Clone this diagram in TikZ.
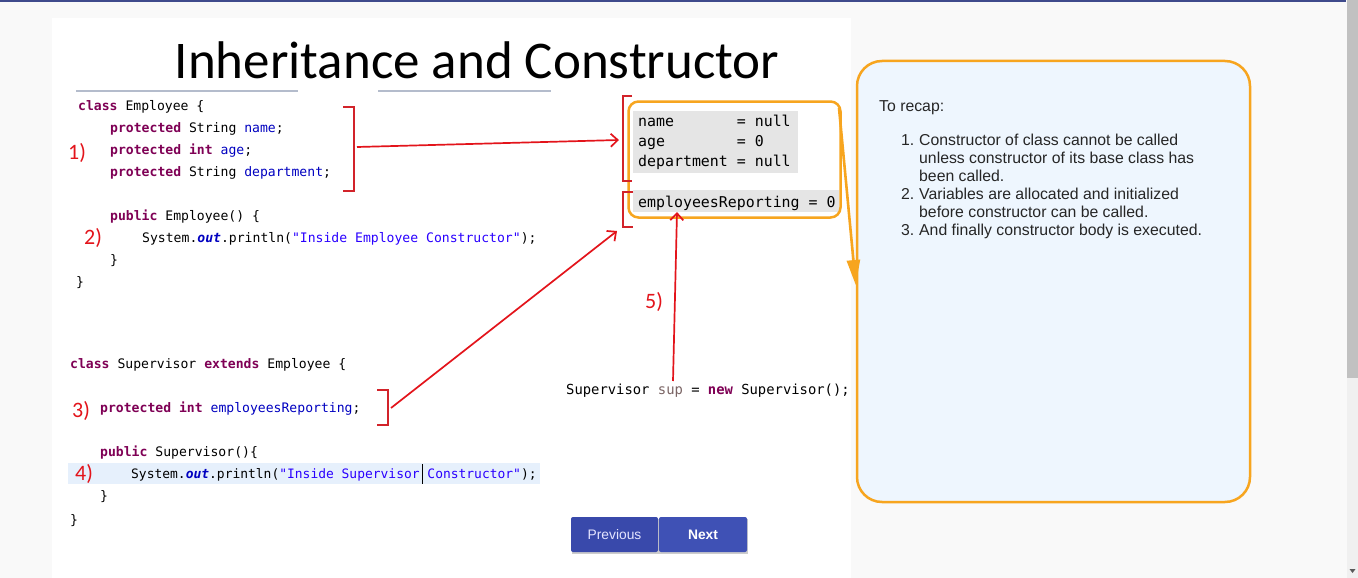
\documentclass[tikz,border=0pt]{standalone}
\usepackage{fontspec}
\usetikzlibrary{arrows.meta}
\setmainfont{Liberation Sans}
\newfontfamily\codefont{DejaVu Sans Mono}
\newfontfamily\titlefont{Carlito}
\definecolor{pagebg}{HTML}{F9F9F9}
\definecolor{topline}{HTML}{3F4B8C}
\definecolor{scrolltrack}{HTML}{F0F0F0}
\definecolor{scrollthumb}{HTML}{C1C1C1}
\definecolor{kwc}{HTML}{7F0055}
\definecolor{fldc}{HTML}{0000C0}
\definecolor{strcol}{HTML}{2A00FF}
\definecolor{locc}{HTML}{7A6464}
\definecolor{labred}{HTML}{E3141B}
\definecolor{brred}{HTML}{D2232A}
\definecolor{orangec}{HTML}{F7A51F}
\definecolor{recapfill}{HTML}{EEF6FE}
\definecolor{hilite}{HTML}{E6F0FC}
\definecolor{btnprev}{HTML}{3949AB}
\definecolor{btnnext}{HTML}{3F51B5}
\definecolor{rulec}{HTML}{B4BCCC}
\newcommand{\kw}[1]{{\bfseries\color{kwc}#1}}
\newcommand{\fld}[1]{{\color{fldc}#1}}
\newcommand{\strt}[1]{{\color{strcol}#1}}
\newcommand{\outk}[1]{{\bfseries\itshape\color{fldc}#1}}
\begin{document}
\begin{tikzpicture}[x=1pt,y=-1pt,
  code/.style={anchor=base west, inner sep=0pt, font=\codefont\fontsize{13.1}{15}\selectfont},
  codes/.style={anchor=base west, inner sep=0pt, font=\codefont\fontsize{12.95}{15}\selectfont},
  codeb/.style={anchor=base west, inner sep=0pt, font=\codefont\fontsize{13.85}{16}\selectfont},
  memtext/.style={anchor=base west, inner sep=0pt, font=\codefont\fontsize{14.9}{17}\selectfont},
  steplabel/.style={anchor=base west, inner sep=0pt, text=labred, font=\titlefont\fontsize{22}{24}\selectfont},
  recaptext/.style={anchor=base west, inner sep=0pt, text=black!85, font=\fontsize{15.8}{18}\selectfont},
  bracketline/.style={draw=brred, line width=2pt},
  redarrow/.style={draw=labred, line width=1.7pt, -{Straight Barb[length=7pt,width=13pt]}},
  orangearrow/.style={draw=orangec, line width=2.6pt, -{Triangle[length=25pt,width=13pt]}},
  btn/.style={text=white, inner sep=0pt, minimum height=35pt, rounded corners=2pt, font=\fontsize{13.8}{16}\selectfont}
]
\useasboundingbox (0,0) rectangle (1358,578);
% page background
\fill[pagebg] (0,0) rectangle (1358,578);
\fill[white] (52,18) rectangle (851,578);
\fill[topline] (0,0) rectangle (1346,2);
\fill[scrolltrack] (1347,0) rectangle (1358,578);
\fill[scrollthumb] (1347,0) rectangle (1358,378);
\fill[black!65] (1349.5,569) -- (1355.5,569) -- (1352.5,573) -- cycle;

% title
\node[anchor=base, inner sep=0pt, font=\titlefont\fontsize{53}{56}\selectfont] (title) at (477,79) {Inheritance and Constructor};
\draw[rulec, line width=1.2pt] (76,91) -- (298,91);
\draw[rulec, line width=1.2pt] (378,91) -- (551,91);

% Employee class
\node[code] (e1) at (78,110.5) {\kw{class} Employee \{};
\node[code] (e2) at (110,132.5) {\kw{protected} String \fld{name};};
\node[code] (e3) at (110,154.5) {\kw{protected} \kw{int} \fld{age};};
\node[code] (e4) at (110,176.5) {\kw{protected} String \fld{department};};
\node[code] (e5) at (110,220.5) {\kw{public} Employee() \{};
\node[code] (e6) at (142,242.5) {System.\outk{out}.println(\strt{"Inside Employee Constructor"});};
\node[code] (e7) at (110,264.5) {\}};
\node[code] (e8) at (76,286.5) {\}};
\node[steplabel] (l1) at (68,159) {1)};
\node[steplabel] (l2) at (84,244) {2)};

% Supervisor class
\fill[hilite] (68,463) rectangle (540,484);
\node[code] (s1) at (70,368.5) {\kw{class} Supervisor \kw{extends} Employee \{};
\node[code] (s2) at (100,412.5) {\kw{protected} \kw{int} \fld{employeesReporting};};
\node[code] (s3) at (100,456.5) {\kw{public} Supervisor()\{};
\node[codes] (s4) at (131,478.5) {System.\outk{out}.println(\strt{"Inside Supervisor Constructor"});};
\draw[black, line width=1pt] (422,464) -- (422,484);
\node[code] (s5) at (100,500.5) {\}};
\node[code] (s6) at (70,524.5) {\}};
\node[steplabel] (l3) at (72,417) {3)};
\node[steplabel] (l4) at (75,480) {4)};

% new Supervisor
\node[codeb] (newsup) at (566,394.5) {Supervisor {\color{locc}sup} = \kw{new} Supervisor();};
\node[steplabel] (l5) at (645,308) {5)};

% memory box
\fill[black!10] (633,111) rectangle (798,173);
\fill[black!10] (633,190) rectangle (839,212);
\node[memtext] (m1) at (638,126.5) {name\hphantom{xxxxxxx}= null};
\node[memtext] (m2) at (638,146.5) {age\hphantom{xxxxxxxx}= 0};
\node[memtext] (m3) at (638,166.5) {department = null};
\node[memtext] (m4) at (638,207.3) {employeesReporting = 0};
\node[draw=orangec, line width=2.5pt, rounded corners=10pt, minimum width=212pt, minimum height=116pt, inner sep=0pt] (mem) at (734.5,159.5) {};

% brackets
\draw[bracketline] (343,107) -- (354,107) -- (354,191) -- (343,191);
\coordinate (b1) at (357,147);
\draw[bracketline] (632,96) -- (622.5,96) -- (622.5,180.5) -- (632,180.5);
\coordinate (b2) at (619,140);
\draw[bracketline] (633,192) -- (622.5,192) -- (622.5,226.5) -- (633,226.5);
\coordinate (b3end) at (617,231);
\draw[bracketline] (377,390) -- (388,390) -- (388,425) -- (377,425);
\coordinate (b3) at (391,408);
\coordinate (m4bot) at (677,212);
\coordinate (supstart) at (673,381);

% red arrows
\draw[redarrow] (b1) -- (b2);
\draw[redarrow] (b3) -- (b3end);
\draw[redarrow] (supstart) -- (m4bot);

% recap box
\node[draw=orangec, fill=recapfill, line width=2.5pt, rounded corners=25pt, minimum width=393pt, minimum height=441pt, inner sep=0pt] (recap) at (1053.5,281.5) {};
\coordinate (o1) at (839,108);
\draw[orangearrow] (o1) -- (recap.west |- 0,285);

\node[recaptext] (r0) at (879,111.5) {To recap:};
\node[recaptext] (n1) at (901,145.5) {1.};
\node[recaptext] (r1a) at (919,145.5) {Constructor of class cannot be called};
\node[recaptext] (r1b) at (919,163.5) {unless constructor of its base class has};
\node[recaptext] (r1c) at (919,181.5) {been called.};
\node[recaptext] (n2) at (901,199.5) {2.};
\node[recaptext] (r2a) at (919,199.5) {Variables are allocated and initialized};
\node[recaptext] (r2b) at (919,217.5) {before constructor can be called.};
\node[recaptext] (n3) at (901,235.5) {3.};
\node[recaptext] (r3a) at (919,235.5) {And finally constructor body is executed.};

% buttons
\fill[black!20] (572,519) rectangle (748,554);
\node[btn, fill=btnprev, minimum width=87pt, text=white!90!blue] (prev) at (614.5,534.5) {Previous};
\node[btn, fill=btnnext, minimum width=88pt, font=\bfseries\fontsize{13.8}{16}\selectfont] (next) at (703,534.5) {Next};
\end{tikzpicture}
\end{document}
